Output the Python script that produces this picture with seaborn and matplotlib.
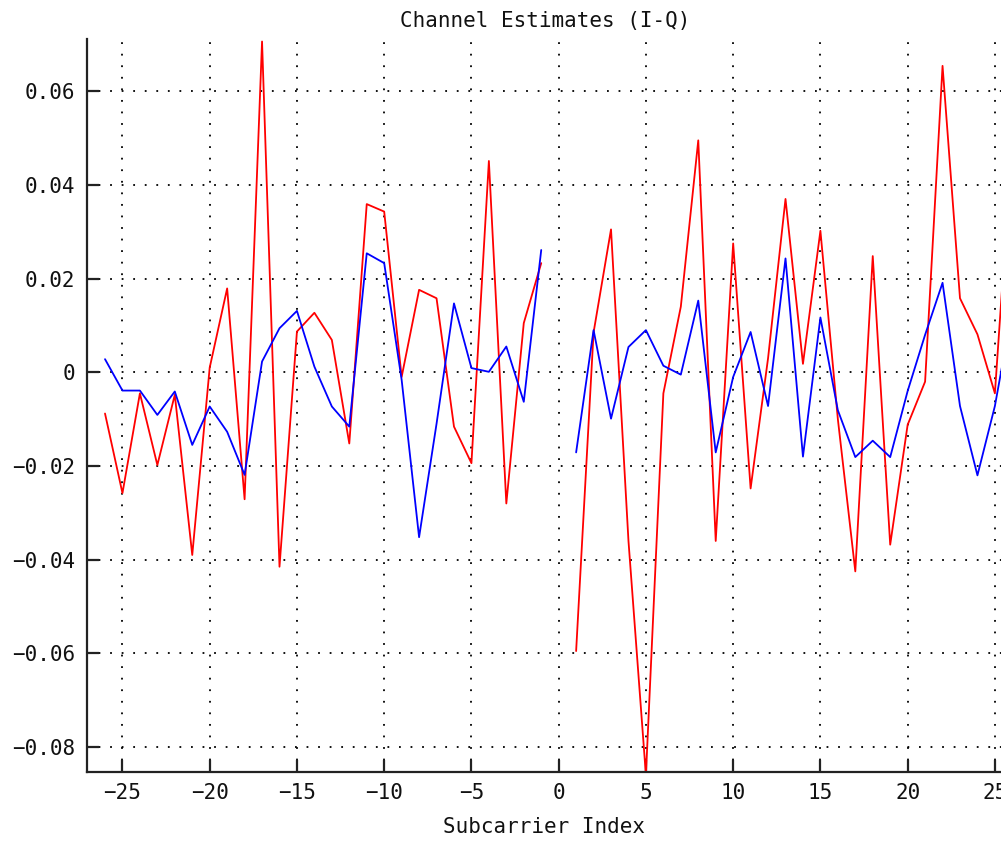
import matplotlib
matplotlib.use("Agg")
import matplotlib.pyplot as plt
import seaborn as sns
import pandas as pd

# Subcarrier indices (DC carrier 0 is unused)
sc_neg = list(range(-26, 0))
sc_pos = list(range(1, 27))

# In-phase channel estimates
i_neg = [-0.0088, -0.0258, -0.0045, -0.0198, -0.0048, -0.0390, 0.0010, 0.0179,
         -0.0271, 0.0706, -0.0415, 0.0087, 0.0127, 0.0069, -0.0152, 0.0359,
         0.0343, -0.0010, 0.0176, 0.0158, -0.0116, -0.0194, 0.0451, -0.0280,
         0.0105, 0.0233]
i_pos = [-0.0595, 0.0085, 0.0305, -0.0360, -0.0860, -0.0045, 0.0140, 0.0495,
         -0.0360, 0.0275, -0.0248, 0.0030, 0.0370, 0.0018, 0.0302, -0.0100,
         -0.0425, 0.0248, -0.0368, -0.0112, -0.0020, 0.0654, 0.0158, 0.0081,
         -0.0045, 0.0500]

# Quadrature channel estimates
q_neg = [0.0028, -0.0039, -0.0039, -0.0091, -0.0041, -0.0155, -0.0073, -0.0127,
         -0.0219, 0.0023, 0.0094, 0.0131, 0.0012, -0.0073, -0.0116, 0.0254,
         0.0233, -0.0016, -0.0352, -0.0110, 0.0147, 0.0009, 0.0001, 0.0055,
         -0.0063, 0.0261]
q_pos = [-0.0171, 0.0090, -0.0099, 0.0054, 0.0090, 0.0014, -0.0005, 0.0153,
         -0.0171, -0.0010, 0.0086, -0.0072, 0.0243, -0.0180, 0.0117, -0.0081,
         -0.0181, -0.0146, -0.0181, -0.0040, 0.0080, 0.0191, -0.0072, -0.0220,
         -0.0072, 0.0134]

x_ticks = [-25, -20, -15, -10, -5, 0, 5, 10, 15, 20, 25]
y_ticks = [-0.08, -0.06, -0.04, -0.02, 0.0, 0.02, 0.04, 0.06]
y_tick_labels = ["\u22120.08", "\u22120.06", "\u22120.04", "\u22120.02", "0",
                 "0.02", "0.04", "0.06"]
x_tick_labels = [("\u2212%d" % -v) if v < 0 else str(v) for v in x_ticks]

sns.set_theme(style="ticks")
plt.rcParams["font.family"] = ["DejaVu Sans Mono", "DejaVu Sans"]

fig = plt.figure(figsize=(10.01, 8.42), dpi=100)
ax = fig.add_axes([0.0866, 0.0835, 1.0 - 0.0866, 0.9537 - 0.0835])

halves = [
    (sc_neg, i_neg, "#ff0000"),
    (sc_pos, i_pos, "#ff0000"),
    (sc_neg, q_neg, "#0000ff"),
    (sc_pos, q_pos, "#0000ff"),
]
for xs, ys, col in halves:
    df = pd.DataFrame({"Subcarrier": xs, "Estimate": ys})
    sns.lineplot(data=df, x="Subcarrier", y="Estimate", ax=ax, color=col,
                 linewidth=1.3, estimator=None, sort=False, legend=False)

ax.set_xlim(-27.05, 25.35)
ax.set_ylim(-0.08525, 0.07114)
ax.set_xticks(x_ticks)
ax.set_xticklabels(x_tick_labels)
ax.set_yticks(y_ticks)
ax.set_yticklabels(y_tick_labels)

ax.grid(True, color="black", linestyle=(0, (1, 5.4)), linewidth=1.3)
ax.set_axisbelow(True)

for side in ("top", "right"):
    ax.spines[side].set_visible(False)
for side in ("left", "bottom"):
    ax.spines[side].set_color("#222222")
    ax.spines[side].set_linewidth(1.6)

ax.tick_params(axis="both", direction="in", length=8.5, width=1.6,
               color="#222222", labelsize=15, labelcolor="#111111", pad=8)

ax.set_xlabel("Subcarrier Index", fontsize=15, color="#111111", labelpad=10)
ax.set_ylabel("")
fig.suptitle("Channel Estimates (I-Q)", x=0.545, y=0.987, fontsize=15,
             color="#111111", va="top")

fig.savefig("out.png", dpi=100, facecolor="white")
